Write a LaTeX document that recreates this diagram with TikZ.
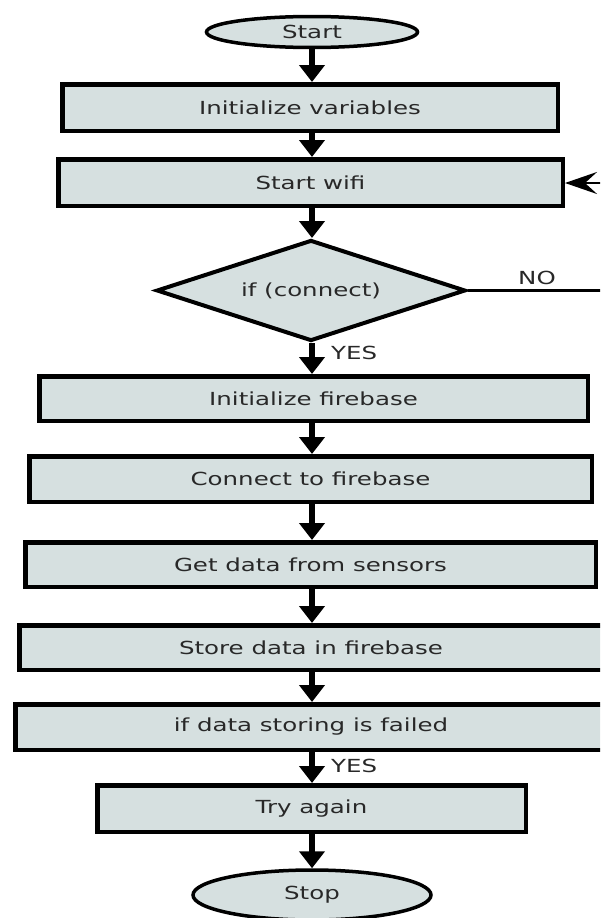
\documentclass[tikz,border=0pt]{standalone}
\usepackage{fontspec}
\newfontfamily\lblfont[FakeStretch=1.36]{DejaVu Sans}
\usetikzlibrary{shapes.geometric,arrows.meta}
\definecolor{boxfill}{RGB}{214,224,224}
\definecolor{txt}{RGB}{40,40,40}
\begin{document}
\begin{tikzpicture}[x=1pt,y=-1pt,
  font=\lblfont\fontsize{18}{22}\selectfont,
  procbox/.style={draw=black, fill=boxfill, line width=4.5pt, text=txt, inner sep=0pt},
  termbox/.style={draw=black, fill=boxfill, ellipse, line width=3.5pt, text=txt, inner sep=0pt},
  decbox/.style={draw=black, fill=boxfill, diamond, aspect=3, line width=4pt, text=txt, inner sep=0pt},
  arr/.style={line width=5.5pt, -{Triangle[width=25pt,length=17pt]}},
  loopline/.style={line width=2.5pt},
  looparr/.style={line width=2.5pt, -{Stealth[length=32pt,width=22pt,inset=12pt]}},
  lbl/.style={text=txt, inner sep=0pt}
]
\useasboundingbox (0,0) rectangle (600,918);
\clip (0,0) rectangle (600,918);
\fill[white] (0,0) rectangle (600,918);

\node[termbox, minimum width=211pt, minimum height=31pt] (start) at (312,32) {Start};
\node[procbox, minimum width=495.5pt, minimum height=46.5pt] (init) at (310,107.5) {Initialize variables};
\node[procbox, minimum width=504.5pt, minimum height=46.5pt] (wifi) at (310.5,182.5) {Start wifi};
\node[decbox, minimum width=309pt, minimum height=101pt] (dec) at (311,290.5) {if (connect)};
\node[procbox, minimum width=548.5pt, minimum height=44.5pt] (fbinit) at (313.5,398.5) {Initialize firebase};
\node[procbox, minimum width=562.5pt, minimum height=45.5pt] (fbconn) at (310.5,479) {Connect to firebase};
\node[procbox, minimum width=570.5pt, minimum height=44.5pt] (getdata) at (310.5,564.5) {Get data from sensors};
\node[procbox, minimum width=583.5pt, minimum height=44.5pt] (store) at (311,647.5) {Store data in firebase};
\node[procbox, minimum width=591.5pt, minimum height=45.5pt] (fail) at (311,727) {if data storing is failed};
\node[procbox, minimum width=428.5pt, minimum height=46.5pt] (retry) at (311.5,808.5) {Try again};
\node[termbox, minimum width=238pt, minimum height=50pt] (stop) at (312,895) {Stop};

\draw[arr] (start.south) -- (start.south |- init.north);
\draw[arr] (init.south -| start.south) -- (wifi.north -| start.south);
\draw[arr] (wifi.south -| start.south) -- (dec.north -| start.south);
\draw[arr] (dec.south -| start.south) -- (fbinit.north -| start.south);
\draw[arr] (fbinit.south -| start.south) -- (fbconn.north -| start.south);
\draw[arr] (fbconn.south -| start.south) -- (getdata.north -| start.south);
\draw[arr] (getdata.south -| start.south) -- (store.north -| start.south);
\draw[arr] (store.south -| start.south) -- (fail.north -| start.south);
\draw[arr] (fail.south -| start.south) -- (retry.north -| start.south);
\draw[arr] (retry.south -| start.south) -- (stop.north);

\node[lbl, anchor=west] (yes1) at (331,353) {YES};
\node[lbl, anchor=west] (yes2) at (331,766) {YES};
\node[lbl] (no) at (537,278) {NO};

\coordinate (r1) at (612,290.5);
\coordinate (r2) at (612,183);
\draw[loopline] (dec.east) -- (r1) -- (r2);
\draw[looparr] (r2) -- (wifi.east |- r2);
\end{tikzpicture}
\end{document}
